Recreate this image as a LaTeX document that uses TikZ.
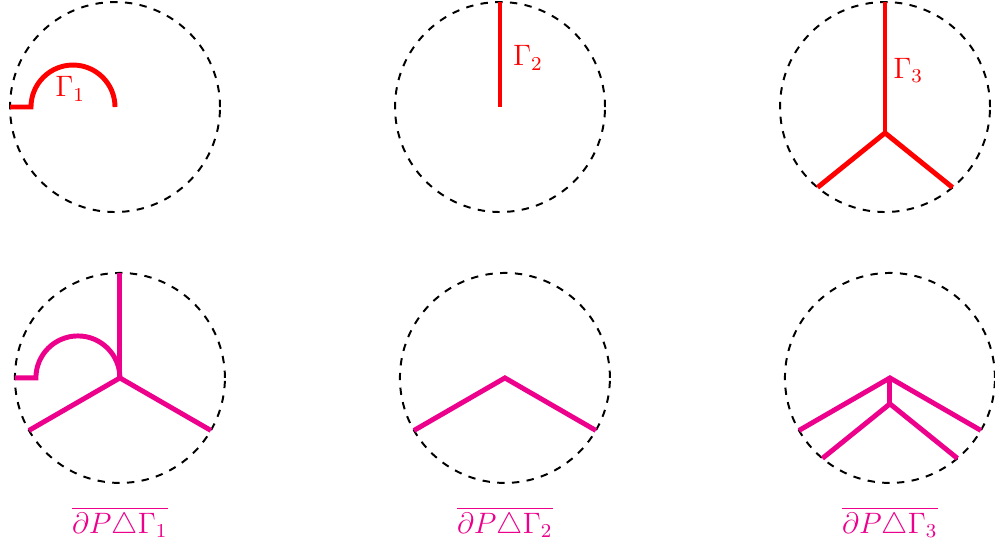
\documentclass[tikz,border=0pt]{standalone}
\usepackage{amsmath,amssymb}
\usepackage{xcolor}
\usepackage{tikz}
\usetikzlibrary{calc,positioning}
\definecolor{curvered}{RGB}{255, 0, 0}
\definecolor{diffmagenta}{RGB}{236, 0, 140}

\tikzset{
    disk/.style={dashed, thick, black},
    gammaline/.style={line width=2pt, color=curvered},
    diffline/.style={line width=2pt, color=diffmagenta},
    gammalabel/.style={color=curvered, font=\large},
    difflabel/.style={color=diffmagenta, font=\large}
}

\begin{document}
\begin{tikzpicture}
    \useasboundingbox (-1.643,-6.229) rectangle (12.571,1.529);

    % centres of the six disks
    \coordinate (O1) at (0,0);
    \coordinate (O2) at (5.5,0);
    \coordinate (O3) at (11,0);
    \coordinate (P1) at (0.07,-3.87);
    \coordinate (P2) at (5.57,-3.87);
    \coordinate (P3) at (11.07,-3.87);

    \foreach \c in {O1,O2,O3,P1,P2,P3}
        \draw[disk] (\c) circle (1.5);

    % top row: the curves
    \draw[gammaline] ($(O1)+(-1.5,0)$) -- ($(O1)+(-1.2,0)$) arc (180:0:0.6);
    \node[gammalabel] (g1) at ($(O1)+(-0.64,0.26)$) {$\Gamma_1$};

    \draw[gammaline] ($(O2)+(90:1.5)$) -- (O2);
    \node[gammalabel] (g2) at ($(O2)+(0.4,0.7)$) {$\Gamma_2$};

    \coordinate (J3) at ($(O3)+(0,-0.37)$);
    \draw[gammaline] ($(O3)+(90:1.5)$) -- (J3);
    \draw[gammaline] ($(O3)+(230:1.5)$) -- (J3) -- ($(O3)+(310:1.5)$);
    \node[gammalabel] (g3) at ($(O3)+(0.33,0.52)$) {$\Gamma_3$};

    % bottom row: symmetric differences
    \draw[diffline] ($(P1)+(-1.5,0)$) -- ($(P1)+(-1.2,0)$) arc (180:0:0.6);
    \draw[diffline] ($(P1)+(90:1.5)$) -- (P1);
    \draw[diffline] ($(P1)+(210:1.5)$) -- (P1) -- ($(P1)+(330:1.5)$);
    \node[difflabel] (d1) at ($(P1)+(0,-2.07)$) {$\overline{\partial P\triangle\Gamma_1}$};

    \draw[diffline] ($(P2)+(210:1.5)$) -- (P2) -- ($(P2)+(330:1.5)$);
    \node[difflabel] (d2) at ($(P2)+(0,-2.07)$) {$\overline{\partial P\triangle\Gamma_2}$};

    \coordinate (J6) at ($(P3)+(0,-0.37)$);
    \draw[diffline] ($(P3)+(210:1.5)$) -- (P3) -- ($(P3)+(330:1.5)$);
    \draw[diffline] (P3) -- (J6);
    \draw[diffline] ($(P3)+(230:1.5)$) -- (J6) -- ($(P3)+(310:1.5)$);
    \node[difflabel] (d3) at ($(P3)+(0,-2.07)$) {$\overline{\partial P\triangle\Gamma_3}$};
\end{tikzpicture}
\end{document}
